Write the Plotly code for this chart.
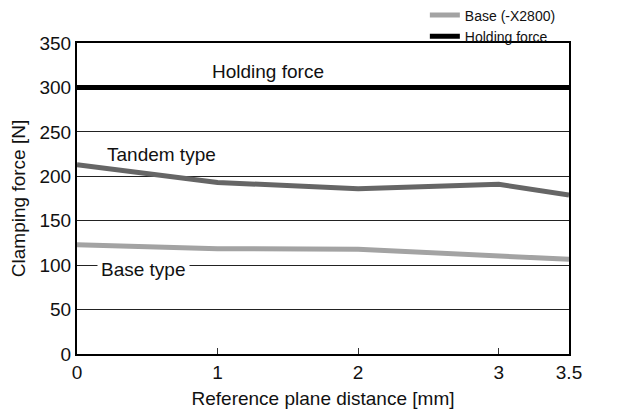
import plotly.graph_objects as go

distance = [0, 1, 2, 3, 3.5]
tandem_force = [213, 193, 186, 191, 179]
base_force = [123, 118.5, 118, 109.5, 106.5]
holding_force = [300, 300, 300, 300, 300]

x_ticks = [0, 1, 2, 3, 3.5]
x_tick_text = ["0", "1", "2", "3", "3.5"]
y_ticks = [0, 50, 100, 150, 200, 250, 300, 350]

FONT = "Liberation Sans, Arial, sans-serif"
TXT = "#111111"

fig = go.Figure()
fig.add_trace(go.Scatter(x=distance, y=tandem_force, mode="lines", name="Tandem",
                         line=dict(color="#666666", width=5), showlegend=False))
fig.add_trace(go.Scatter(x=distance, y=base_force, mode="lines", name="Base (-X2800)",
                         line=dict(color="#a3a3a3", width=5)))
fig.add_trace(go.Scatter(x=distance, y=holding_force, mode="lines", name="Holding force",
                         line=dict(color="#000000", width=5)))

fig.add_annotation(x=1.36, y=318, text="Holding force", showarrow=False,
                   font=dict(size=19, color=TXT))
fig.add_annotation(x=0.60, y=225, text="Tandem type", showarrow=False,
                   font=dict(size=19, color=TXT))
fig.add_annotation(x=0.473, y=95.5, text="Base type", showarrow=False,
                   font=dict(size=19, color=TXT), bgcolor="white", borderpad=3)

fig.update_layout(
    width=614, height=402,
    margin=dict(l=69, r=53, t=35, b=56, autoexpand=False),
    paper_bgcolor="white", plot_bgcolor="white",
    font=dict(family=FONT, size=19, color=TXT),
    legend=dict(x=0.707, y=1.140, xanchor="left", yanchor="top",
                font=dict(size=14, color=TXT), bgcolor="rgba(0,0,0,0)",
                tracegroupgap=0, itemwidth=30),
    xaxis=dict(range=[0, 3.5], tickvals=x_ticks, ticktext=x_tick_text,
               ticks="inside", ticklen=6, tickcolor="#333", tickwidth=1,
               showline=True, linecolor="black", linewidth=2, mirror=True,
               showgrid=False, zeroline=False,
               title=dict(text="Reference plane distance [mm]", font=dict(size=19), standoff=10),
               tickfont=dict(size=19)),
    yaxis=dict(range=[0, 350], tickvals=y_ticks, ticks="",
               showline=True, linecolor="black", linewidth=2, mirror=True,
               showgrid=True, gridcolor="#222", gridwidth=1, zeroline=False,
               title=dict(text="Clamping force [N]", font=dict(size=19), standoff=10),
               tickfont=dict(size=19)),
)

fig.write_html("out.html")
